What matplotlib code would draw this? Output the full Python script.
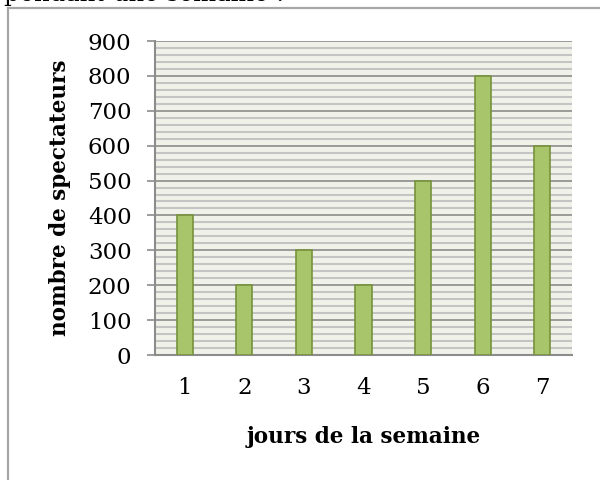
# Bar chart: spectators per day of the week

import numpy as np
import matplotlib.pyplot as plt
from matplotlib.lines import Line2D
from matplotlib.ticker import MultipleLocator

jours = [1, 2, 3, 4, 5, 6, 7]
spectateurs = [400, 200, 300, 200, 500, 800, 600]

plt.rcParams['font.family'] = ['DejaVu Serif']

fig = plt.figure(figsize=(6, 4.8), dpi=100)
fig.patch.set_facecolor('white')

# cut-off sentence above the chart frame
fig.text(4/600, 1 - 1/480, 'pendant une semaine :', fontsize=17.5,
         va='baseline', ha='left', color='black')

# chart frame (only left and top edges visible)
fig.add_artist(Line2D([7.5/600, 7.5/600], [0, 1 - 7.5/480],
                      transform=fig.transFigure, color='#a6a6a6', lw=1.6))
fig.add_artist(Line2D([7.5/600, 1], [1 - 7.5/480, 1 - 7.5/480],
                      transform=fig.transFigure, color='#a6a6a6', lw=1.6))

ax = fig.add_axes([155/600, 125/480, 417/600, 314/480])
ax.set_facecolor('#f0f2ea')

ax.bar(jours, spectateurs, width=0.27, color='#a9c56b',
       edgecolor='#76923c', linewidth=1.2, zorder=3)

ax.set_xlim(0.5, 7.5)
ax.set_ylim(0, 900)
ax.yaxis.set_major_locator(MultipleLocator(100))
ax.yaxis.set_minor_locator(MultipleLocator(20))
ax.grid(which='minor', axis='y', color='#c4c4c4', lw=1.5, zorder=1)
ax.grid(which='major', axis='y', color='#8c8c8c', lw=1.2, zorder=2)

ax.set_xticks(jours)
ax.tick_params(axis='x', length=0, pad=16, labelsize=16.5)
ax.tick_params(axis='y', which='major', length=6, width=1.2,
               color='#8c8c8c', pad=11, labelsize=16.5)
ax.tick_params(axis='y', which='minor', length=0)

for side in ['top', 'right']:
    ax.spines[side].set_visible(False)
for side in ['left', 'bottom']:
    ax.spines[side].set_color('#8c8c8c')
    ax.spines[side].set_linewidth(1.5)

ax.set_xlabel('jours de la semaine', fontsize=15.5, fontweight='bold', labelpad=19)
ax.set_ylabel('nombre de spectateurs', fontsize=15.5, fontweight='bold', labelpad=12)

fig.savefig('out.png', dpi=100)
